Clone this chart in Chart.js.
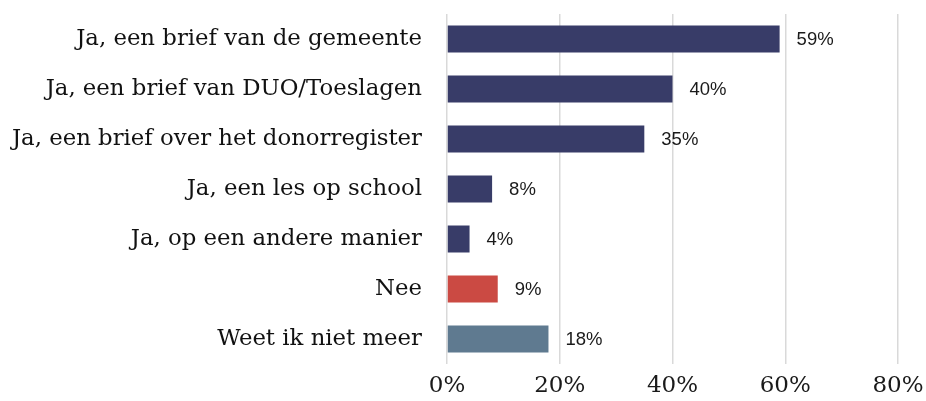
<!DOCTYPE html>
<html>
<head>
<meta charset="utf-8">
<script src="https://cdn.jsdelivr.net/npm/chart.js@4/dist/chart.umd.min.js"></script>
<style>
  html, body { margin: 0; padding: 0; background: #ffffff; }
  #wrap { width: 926px; height: 401px; position: relative; }
</style>
</head>
<body>
<div id="wrap"><canvas id="c" width="926" height="401"></canvas></div>
<script>
const categories = [
  "Ja, een brief van de gemeente",
  "Ja, een brief van DUO/Toeslagen",
  "Ja, een brief over het donorregister",
  "Ja, een les op school",
  "Ja, op een andere manier",
  "Nee",
  "Weet ik niet meer"
];
const values = [59, 40, 35, 8, 4, 9, 18];
const barColors = ["#383c68", "#383c68", "#383c68", "#383c68", "#383c68", "#cb4a43", "#5f7a90"];
const tickValues = [0, 20, 40, 60, 80];

const SERIF = "'DejaVu Serif', 'Liberation Serif', serif";
const SANS = "'Liberation Sans', Arial, sans-serif";

const valueLabels = {
  id: 'valueLabels',
  afterDatasetsDraw(chart) {
    const ctx = chart.ctx;
    const meta = chart.getDatasetMeta(0);
    ctx.save();
    ctx.font = "18.5px " + SANS;
    ctx.fillStyle = "#1a1a1a";
    ctx.textAlign = "left";
    ctx.textBaseline = "middle";
    meta.data.forEach((bar, i) => {
      ctx.fillText(values[i] + "%", bar.x + 17, bar.y + 1);
    });
    ctx.restore();
  }
};

new Chart(document.getElementById('c'), {
  type: 'bar',
  data: {
    labels: categories,
    datasets: [{
      data: values,
      backgroundColor: barColors,
      borderWidth: 0,
      barPercentage: 0.54,
      categoryPercentage: 1.0
    }]
  },
  options: {
    indexAxis: 'y',
    responsive: false,
    animation: false,
    devicePixelRatio: 1,
    layout: { padding: { top: 14, right: 28, left: 0, bottom: 0 } },
    plugins: { legend: { display: false }, tooltip: { enabled: false } },
    scales: {
      x: {
        min: 0, max: 80,
        afterBuildTicks(scale) { scale.ticks = tickValues.map(v => ({ value: v })); },
        afterFit(scale) { scale.height = 37; scale.paddingLeft = 0; scale.paddingRight = 0; },
        border: { display: false },
        grid: { color: "#d9d9d9", lineWidth: 1.5, drawTicks: false },
        ticks: {
          padding: 8,
          color: "#1a1a1a",
          font: { family: SERIF, size: 23 },
          callback: (v) => v + "%"
        }
      },
      y: {
        afterFit(scale) { scale.width = 447; scale.paddingTop = 0; scale.paddingBottom = 0; },
        border: { display: false },
        grid: { display: false, drawTicks: false },
        ticks: {
          padding: 25,
          color: "#111111",
          font: { family: SERIF, size: 22.8 }
        }
      }
    }
  },
  plugins: [valueLabels]
});
</script>
</body>
</html>
